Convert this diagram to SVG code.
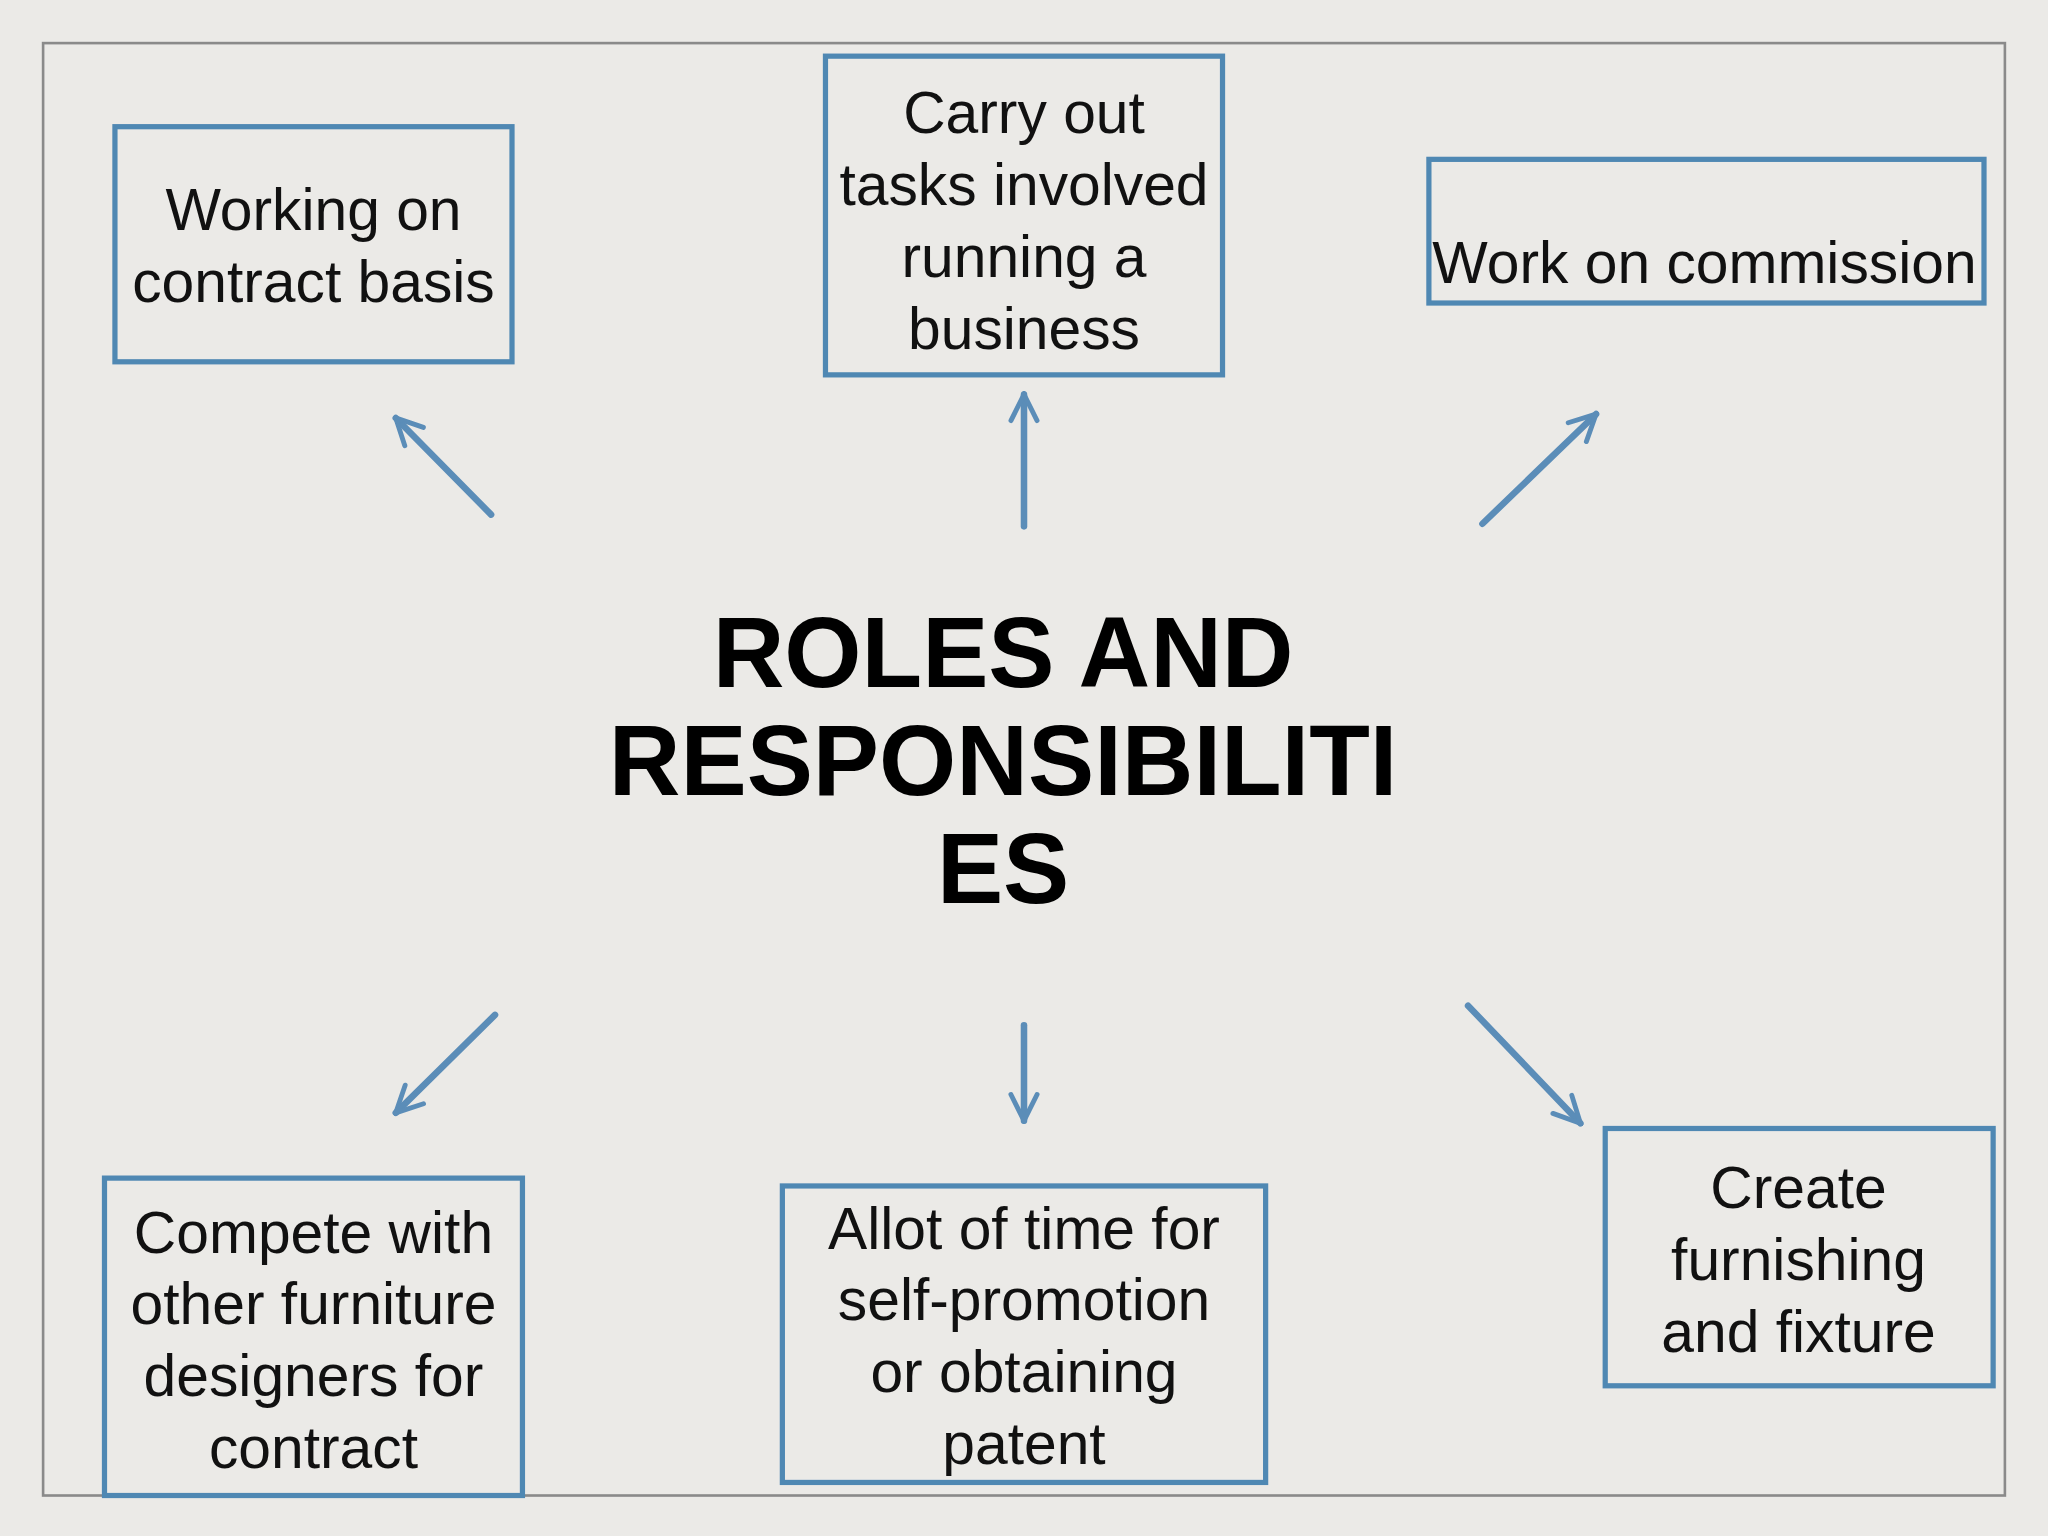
<svg xmlns="http://www.w3.org/2000/svg" width="2048" height="1536" viewBox="0 0 2048 1536">
<style>
.box{fill:none;stroke:#4f88b3;stroke-width:4}
.t{font-family:"Liberation Sans",Arial,sans-serif;font-size:45px;fill:#111;text-anchor:middle}
.c{font-family:"Liberation Sans",Arial,sans-serif;font-size:76px;font-weight:bold;fill:#000;text-anchor:middle}
.a{stroke:#5b8db8;stroke-width:5;fill:none;stroke-linecap:round;marker-end:url(#ah)}
</style>
<defs>
<marker id="ah" viewBox="0 0 10 10" refX="9" refY="5" markerWidth="5" markerHeight="5" orient="auto" markerUnits="strokeWidth">
<path d="M1,1 L9,5 L1,9" fill="none" stroke="#5b8db8" stroke-width="1.5" stroke-linecap="round"/>
</marker>
</defs>
<rect width="2048" height="1536" fill="#ebeae7"/>
<g transform="scale(1.30612)">
<rect x="33" y="33" width="1502" height="1112" fill="none" stroke="#8a8a8a" stroke-width="2"/>
<g id="center"><text class="c" x="768" y="526">ROLES AND</text><text class="c" x="768" y="609">RESPONSIBILITI</text><text class="c" x="768" y="691">ES</text></g>
<g id="n1"><rect class="box" x="88" y="97" width="304" height="180"/><text class="t" x="240" y="176">Working on</text><text class="t" x="240" y="231">contract basis</text></g>
<g id="n2"><rect class="box" x="632" y="43" width="304" height="244"/><text class="t" x="784" y="102">Carry out</text><text class="t" x="784" y="157">tasks involved</text><text class="t" x="784" y="212">running a</text><text class="t" x="784" y="267">business</text></g>
<g id="n3"><rect class="box" x="1094" y="122" width="425" height="110"/><text class="t" x="1305" y="217">Work on commission</text></g>
<g id="n4"><rect class="box" x="80" y="902" width="320" height="243"/><text class="t" x="240" y="959">Compete with</text><text class="t" x="240" y="1014">other furniture</text><text class="t" x="240" y="1069">designers for</text><text class="t" x="240" y="1124">contract</text></g>
<g id="n5"><rect class="box" x="599" y="908" width="370" height="227"/><text class="t" x="784" y="956">Allot of time for</text><text class="t" x="784" y="1011">self-promotion</text><text class="t" x="784" y="1066">or obtaining</text><text class="t" x="784" y="1121">patent</text></g>
<g id="n6"><rect class="box" x="1229" y="864" width="297" height="197"/><text class="t" x="1377" y="925">Create</text><text class="t" x="1377" y="980">furnishing</text><text class="t" x="1377" y="1035">and fixture</text></g>
<g id="connectors">
<line class="a" x1="376" y1="394" x2="303" y2="320"/>
<line class="a" x1="784" y1="403" x2="784" y2="302"/>
<line class="a" x1="1135" y1="401" x2="1222" y2="317"/>
<line class="a" x1="379" y1="777" x2="303" y2="852"/>
<line class="a" x1="784" y1="785" x2="784" y2="858"/>
<line class="a" x1="1124" y1="770" x2="1210" y2="860"/>
</g>
</g>
</svg>
